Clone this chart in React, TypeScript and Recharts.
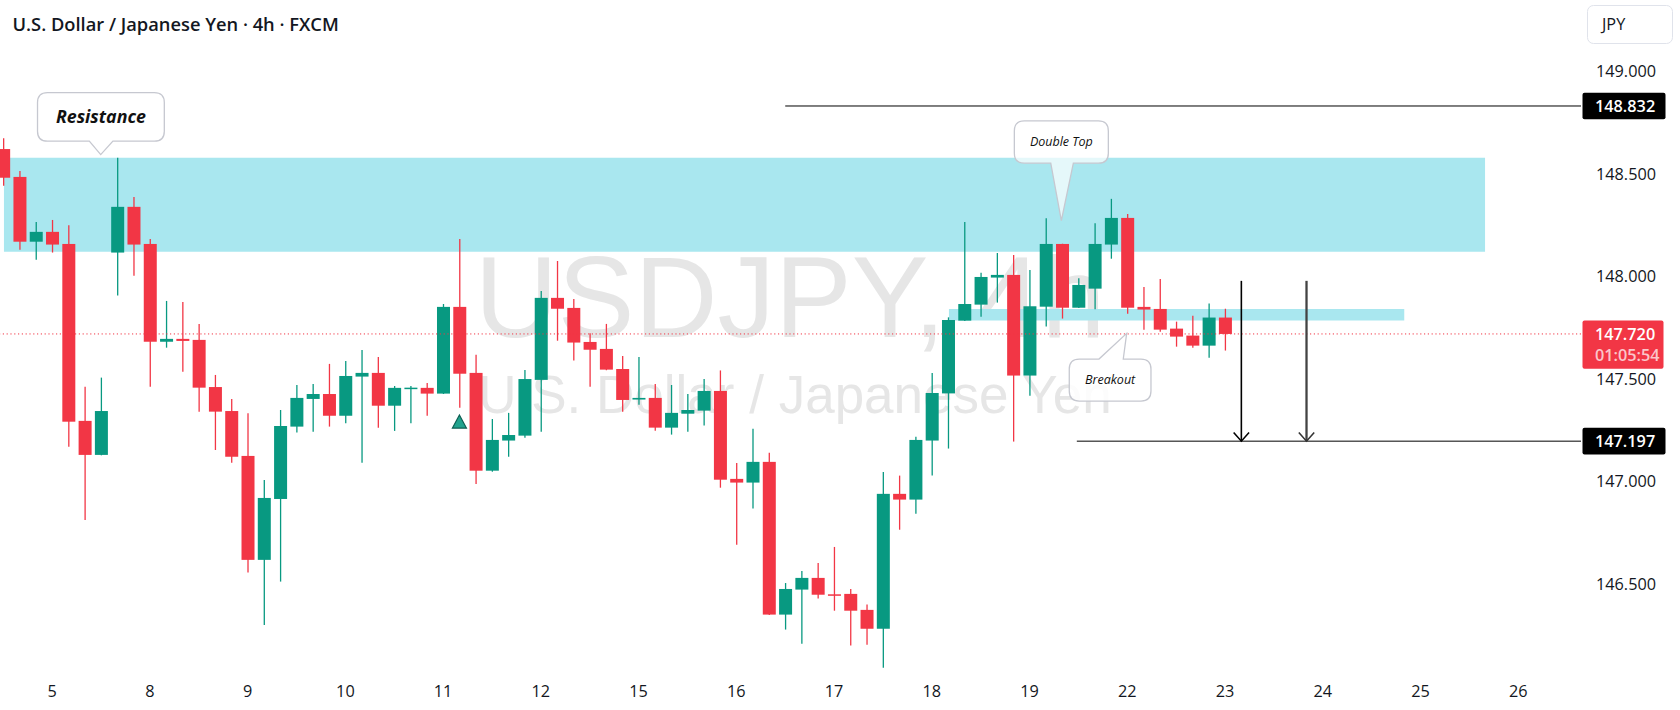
import { Bar, ComposedChart, ReferenceArea, ReferenceDot, ReferenceLine, XAxis, YAxis } from 'recharts'

// 4h candles (first visible bar is index 0)
const opens = [
  148.622, 148.486, 148.17, 148.218, 148.159, 147.296, 147.13, 148.117, 148.34, 148.159,
  147.682, 147.696, 147.691, 147.461, 147.344, 147.125, 146.618, 146.915, 147.268, 147.403,
  147.427, 147.321, 147.512, 147.53, 147.37, 147.455, 147.457, 147.429, 147.852, 147.53,
  147.053, 147.2, 147.224, 147.496, 147.896, 147.847, 147.681, 147.647, 147.549, 147.4,
  147.408, 147.263, 147.331, 147.346, 147.442, 147.013, 146.995, 147.096, 146.351, 146.473,
  146.53, 146.45, 146.452, 146.374, 146.282, 146.94, 146.912, 147.2, 147.43, 147.785,
  147.863, 147.995, 148.008, 147.517, 147.853, 148.159, 147.848, 147.941, 148.156, 148.286,
  147.852, 147.842, 147.746, 147.712, 147.663, 147.8,
]
const highs = [
  148.675, 148.515, 148.266, 148.276, 148.25, 147.463, 147.507, 148.579, 148.388, 148.183,
  147.881, 147.876, 147.769, 147.52, 147.403, 147.333, 147.008, 147.349, 147.471, 147.476,
  147.574, 147.588, 147.642, 147.608, 147.466, 147.466, 147.481, 147.866, 148.183, 147.618,
  147.305, 147.335, 147.544, 147.93, 148.076, 147.891, 147.723, 147.769, 147.613, 147.608,
  147.476, 147.471, 147.427, 147.5, 147.542, 147.091, 147.257, 147.14, 146.505, 146.564,
  146.603, 146.681, 146.476, 146.4, 147.047, 147.029, 147.218, 147.53, 147.801, 148.266,
  148.018, 148.115, 148.105, 148.032, 148.284, 148.16, 147.992, 148.26, 148.379, 148.305,
  147.949, 147.988, 147.78, 147.809, 147.868, 147.843,
]
const lows = [
  148.443, 148.131, 148.082, 148.117, 147.17, 146.813, 147.128, 147.907, 148.004, 147.463,
  147.653, 147.536, 147.341, 147.154, 147.092, 146.556, 146.3, 146.512, 147.239, 147.243,
  147.268, 147.284, 147.092, 147.263, 147.247, 147.284, 147.321, 147.427, 147.36, 146.988,
  147.048, 147.121, 147.214, 147.243, 147.687, 147.59, 147.463, 147.543, 147.341, 147.375,
  147.248, 147.229, 147.243, 147.273, 146.97, 146.692, 146.868, 146.349, 146.278, 146.209,
  146.429, 146.37, 146.2, 146.204, 146.092, 146.765, 146.843, 147.029, 147.161, 147.783,
  147.804, 147.873, 147.195, 147.419, 147.756, 147.795, 147.846, 147.84, 148.087, 147.819,
  147.741, 147.731, 147.658, 147.653, 147.604, 147.639,
]
const closes = [
  148.482, 148.17, 148.218, 148.156, 147.292, 147.13, 147.344, 148.34, 148.156, 147.682,
  147.696, 147.686, 147.458, 147.341, 147.121, 146.618, 146.92, 147.271, 147.408, 147.427,
  147.321, 147.515, 147.53, 147.37, 147.457, 147.458, 147.429, 147.852, 147.526, 147.053,
  147.203, 147.227, 147.5, 147.896, 147.843, 147.678, 147.643, 147.546, 147.398, 147.408,
  147.263, 147.335, 147.349, 147.442, 147.009, 146.995, 147.096, 146.351, 146.476, 146.53,
  146.448, 146.447, 146.37, 146.282, 146.94, 146.912, 147.203, 147.432, 147.788, 147.866,
  147.998, 148.008, 147.517, 147.855, 148.159, 147.848, 147.959, 148.159, 148.286, 147.848,
  147.839, 147.741, 147.707, 147.663, 147.8, 147.72,
]

// day labels sit on the first bar of every day (6 bars a day)
const dayLabels = ['5', '8', '9', '10', '11', '12', '15', '16', '17', '18', '19', '22', '23', '24', '25', '26']
const dayTicks = dayLabels.map((_, k) => 3 + k * 6)
const priceTicks = [146.5, 147, 147.5, 148, 148.5, 149]

const resistanceZone = { from: 0.04, to: 90.96, low: 148.121, high: 148.579 }
const breakoutZone = { from: 58.05, to: 86, low: 147.785, high: 147.842 }
const upperLevel = { from: 48, price: 148.832 }
const targetLevel = { from: 65.9, price: 147.197 }
const lastPrice = 147.72
const arrowBars = [76, 80]
const arrowTop = 147.979
const signalBar = { x: 28, y: 147.292 }
const resistanceTip = { x: 5.98, y: 148.595 }
const doubleTopTip = { x: 64.95, y: 148.273 }
const breakoutTip = { x: 68.96, y: 147.723 }

const X_MIN = -0.2026
const X_MAX = 96.85
const Y_MIN = 146.071
const Y_MAX = 149.349

const GREEN = '#089981'
const RED = '#f23645'
const ZONE = '#a9e7ef'
const TEXT = '#131722'
const FONT = '"Open Sans", "Noto Sans", sans-serif'

const data = opens.map((o, i) => ({
  i,
  open: o,
  high: highs[i],
  low: lows[i],
  close: closes[i],
  range: [lows[i], highs[i]],
}))

const Candle = (props: any) => {
  const { x, y, width, height, payload } = props
  if (x == null || y == null) return null
  const top = Math.min(y, y + height)
  const h = Math.abs(height)
  const { open, close, high, low } = payload
  const color = close >= open ? GREEN : RED
  const yOf = (v: number) => top + ((high - v) / (high - low || 1)) * h
  const bTop = yOf(Math.max(open, close))
  const bBot = yOf(Math.min(open, close))
  const cx = x + width / 2
  return (
    <g>
      <line x1={cx} x2={cx} y1={top} y2={top + h} stroke={color} strokeWidth={1.3} />
      <rect x={x} y={bTop} width={width} height={Math.max(bBot - bTop, 1.5)} fill={color} />
    </g>
  )
}

const ArrowHead = ({ cx, cy, color }: any) => (
  <path d={`M${cx - 7.7},${cy - 8.7} L${cx},${cy} L${cx + 7.7},${cy - 8.7}`} fill="none" stroke={color} strokeWidth={1.6} />
)

const SignalMark = ({ cx, cy }: any) => (
  <path d={`M${cx},${cy - 6.7} L${cx + 7},${cy + 6.4} L${cx - 7},${cy + 6.4} Z`} fill="#22a38e" stroke="#0d5e52" strokeWidth={1.2} />
)

const ResistanceCallout = ({ cx, cy }: any) => {
  const l = cx - 63.2, r = cx + 63.6, t = cy - 62, b = cy - 13.4, rad = 10
  const d = `M${l + rad},${t} H${r - rad} Q${r},${t} ${r},${t + rad} V${b - rad} Q${r},${b} ${r - rad},${b}
    H${cx + 12.2} L${cx},${cy} L${cx - 11.4},${b} H${l + rad} Q${l},${b} ${l},${b - rad} V${t + rad} Q${l},${t} ${l + rad},${t} Z`
  return (
    <g>
      <path d={d} fill="#fff" stroke="#c6c8d0" strokeWidth={1.3} />
      <text x={(l + r) / 2} y={(t + b) / 2} dy="0.35em" textAnchor="middle" fontFamily={FONT} fontSize={17.8} fontWeight={700} fontStyle="italic" fill="#111">
        Resistance
      </text>
    </g>
  )
}

const DoubleTopCallout = ({ cx, cy }: any) => {
  const l = cx - 47, r = cx + 47, t = cy - 99.7, b = cy - 57.4, rad = 10
  const d = `M${l + rad},${t} H${r - rad} Q${r},${t} ${r},${t + rad} V${b - rad} Q${r},${b} ${r - rad},${b}
    H${cx + 12} L${cx},${cy} L${cx - 10.6},${b} H${l + rad} Q${l},${b} ${l},${b - rad} V${t + rad} Q${l},${t} ${l + rad},${t} Z`
  return (
    <g>
      <path d={d} fill="#fff" fillOpacity={0.7} stroke="#c6c8d0" strokeWidth={1.3} />
      <text x={cx} y={(t + b) / 2} dy="0.35em" textAnchor="middle" fontFamily={FONT} fontSize={12.5} fontStyle="italic" fill="#111">
        Double Top
      </text>
    </g>
  )
}

const BreakoutCallout = ({ cx, cy }: any) => {
  const l = cx - 57.4, r = cx + 24.3, t = cy + 25.7, b = cy + 67.7, rad = 10
  const d = `M${l + rad},${t} H${cx - 27.7} L${cx},${cy} L${cx - 3.4},${t} H${r - rad} Q${r},${t} ${r},${t + rad}
    V${b - rad} Q${r},${b} ${r - rad},${b} H${l + rad} Q${l},${b} ${l},${b - rad} V${t + rad} Q${l},${t} ${l + rad},${t} Z`
  return (
    <g>
      <path d={d} fill="#fff" fillOpacity={0.85} stroke="#c6c8d0" strokeWidth={1.3} />
      <text x={(l + r) / 2} y={(t + b) / 2} dy="0.35em" textAnchor="middle" fontFamily={FONT} fontSize={12.5} fontStyle="italic" fill="#111">
        Breakout
      </text>
    </g>
  )
}

const PriceTag = ({ cx, cy, text }: any) => (
  <g>
    <rect x={cx + 1.5} y={cy - 13.3} width={83} height={26.6} rx={2} fill="#000" />
    <text x={cx + 14} y={cy} dy="0.36em" fill="#fff" fontFamily={FONT} fontSize={16.25} fontWeight={600}>
      {text}
    </text>
  </g>
)

const LastPriceTag = ({ cx, cy }: any) => (
  <g>
    <rect x={cx + 1.5} y={cy - 13.5} width={81} height={48.3} rx={2} fill={RED} />
    <text x={cx + 14} y={cy} dy="0.36em" fill="#fff" fontFamily={FONT} fontSize={16.25} fontWeight={600}>
      {lastPrice.toFixed(3)}
    </text>
    <text x={cx + 14} y={cy + 21} dy="0.36em" fill="#fff" fillOpacity={0.72} fontFamily={FONT} fontSize={16.25} fontWeight={600}>
      01:05:54
    </text>
  </g>
)

export default function App() {
  return (
    <div style={{ position: 'absolute', left: 0, top: 0, width: 1680, height: 710, background: '#fff', overflow: 'hidden' }}>
      <svg width={1680} height={710} style={{ position: 'absolute', left: 0, top: 0 }}>
        <text x={12.5} y={31} fontFamily={FONT} fontSize={18.3} fontWeight={600} fill={TEXT}>
          U.S. Dollar / Japanese Yen · 4h · FXCM
        </text>
        <text x={790} y={336.7} textAnchor="middle" fontFamily='"Liberation Sans", Arial, sans-serif' fontSize={115} fill="#e6e6e6">
          USDJPY, 4h
        </text>
        <text x={795} y={413.3} textAnchor="middle" fontFamily='"Liberation Sans", Arial, sans-serif' fontSize={53} fill="#e6e6e6">
          U.S. Dollar / Japanese Yen
        </text>
        <rect x={1587.5} y={5.5} width={85} height={38} rx={6} fill="#fff" stroke="#e0e3eb" />
        <text x={1602} y={30} fontFamily={FONT} fontSize={16.25} fill={TEXT}>
          JPY
        </text>
      </svg>
      <div style={{ position: 'absolute', left: 0, top: 0 }}>
        <ComposedChart width={1680} height={710} data={data} margin={{ top: 0, right: 0, bottom: 0, left: 0 }}>
          <XAxis
            type="number"
            dataKey="i"
            domain={[X_MIN, X_MAX]}
            allowDataOverflow
            ticks={dayTicks}
            interval={0}
            tickFormatter={(v: number) => dayLabels[(v - 3) / 6] ?? ''}
            axisLine={false}
            tickLine={false}
            tickSize={6}
            tickMargin={7}
            height={38}
            tick={{ fontSize: 16.25, fill: TEXT, fontFamily: FONT }}
          />
          <YAxis
            type="number"
            orientation="right"
            domain={[Y_MIN, Y_MAX]}
            allowDataOverflow
            ticks={priceTicks}
            interval={0}
            tickFormatter={(v: number) => v.toFixed(3)}
            axisLine={false}
            tickLine={false}
            tickSize={6}
            tickMargin={9}
            width={99}
            tick={{ fontSize: 16.25, fill: TEXT, fontFamily: FONT }}
          />
          <ReferenceArea x1={resistanceZone.from} x2={resistanceZone.to} y1={resistanceZone.low} y2={resistanceZone.high} fill={ZONE} fillOpacity={1} stroke="none" />
          <ReferenceArea x1={breakoutZone.from} x2={breakoutZone.to} y1={breakoutZone.low} y2={breakoutZone.high} fill={ZONE} fillOpacity={1} stroke="none" />
          <ReferenceLine y={lastPrice} stroke={RED} strokeDasharray="1.2 2.6" strokeWidth={1} />
          <ReferenceLine segment={[{ x: upperLevel.from, y: upperLevel.price }, { x: X_MAX, y: upperLevel.price }]} stroke="#000" strokeWidth={1} />
          <ReferenceLine segment={[{ x: targetLevel.from, y: targetLevel.price }, { x: X_MAX, y: targetLevel.price }]} stroke="#000" strokeWidth={1} />
          <Bar dataKey="range" barSize={13} shape={Candle} isAnimationActive={false} />
          <ReferenceLine segment={[{ x: arrowBars[0], y: arrowTop }, { x: arrowBars[0], y: targetLevel.price }]} stroke="#000" strokeWidth={1.6} />
          <ReferenceLine segment={[{ x: arrowBars[1], y: arrowTop }, { x: arrowBars[1], y: targetLevel.price }]} stroke="#434343" strokeWidth={2.3} />
          <ReferenceDot x={arrowBars[0]} y={targetLevel.price} shape={(p: any) => <ArrowHead {...p} color="#000" />} />
          <ReferenceDot x={arrowBars[1]} y={targetLevel.price} shape={(p: any) => <ArrowHead {...p} color="#333" />} />
          <ReferenceDot x={signalBar.x} y={signalBar.y} shape={SignalMark} />
          <ReferenceDot x={resistanceTip.x} y={resistanceTip.y} shape={ResistanceCallout} ifOverflow="visible" />
          <ReferenceDot x={doubleTopTip.x} y={doubleTopTip.y} shape={DoubleTopCallout} ifOverflow="visible" />
          <ReferenceDot x={breakoutTip.x} y={breakoutTip.y} shape={BreakoutCallout} ifOverflow="visible" />
          <ReferenceDot x={X_MAX} y={upperLevel.price} shape={(p: any) => <PriceTag {...p} text={upperLevel.price.toFixed(3)} />} ifOverflow="visible" />
          <ReferenceDot x={X_MAX} y={targetLevel.price} shape={(p: any) => <PriceTag {...p} text={targetLevel.price.toFixed(3)} />} ifOverflow="visible" />
          <ReferenceDot x={X_MAX} y={lastPrice} shape={LastPriceTag} ifOverflow="visible" />
        </ComposedChart>
      </div>
    </div>
  )
}
